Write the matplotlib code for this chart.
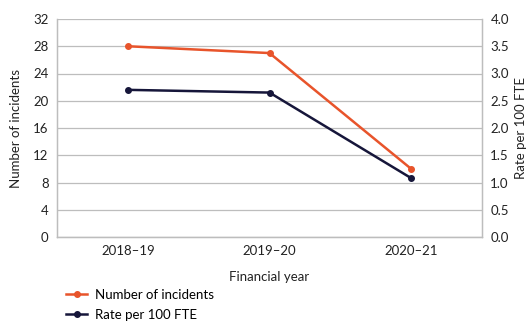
import matplotlib.pyplot as plt
from matplotlib.lines import Line2D

plt.rcParams['font.family'] = ['Lato', 'DejaVu Sans']

years = ['2018–19', '2019–20', '2020–21']
incidents = [28, 27, 10]
rate = [2.7, 2.65, 1.08]

orange = '#E8542B'
navy = '#16163A'
grid = '#BDBDBD'
text = '#222222'

fig = plt.figure(figsize=(5.3, 3.22), dpi=100)
ax = fig.add_axes([57 / 530, 1 - 237 / 322, 425 / 530, 218 / 322])
ax2 = ax.twinx()

x = range(len(years))
ax.plot(x, incidents, color=orange, lw=1.8, marker='o', ms=4)
ax2.plot(x, rate, color=navy, lw=1.8, marker='o', ms=4)

ax.set_xlim(-0.5, 2.5)
ax.set_ylim(0, 32)
ax.set_yticks(range(0, 33, 4))
ax2.set_ylim(0, 4)
ax2.set_yticks([i * 0.5 for i in range(9)])
ax2.set_yticklabels([f'{i * 0.5:.1f}' for i in range(9)])
ax.set_xticks(list(x))
ax.set_xticklabels(years)

ax.grid(axis='y', color=grid, lw=0.9)
ax.set_axisbelow(True)
for a in (ax, ax2):
    for s in a.spines.values():
        s.set_color(grid)
        s.set_linewidth(0.9)
    a.spines['top'].set_visible(False)
    a.tick_params(length=0, labelsize=9.5, colors=text, pad=6)

ax.set_xlabel('Financial year', fontsize=9.5, color=text, labelpad=10)
ax.set_ylabel('Number of incidents', fontsize=9.5, color=text, labelpad=8)
ax2.set_ylabel('Rate per 100 FTE', fontsize=9.5, color=text, labelpad=4)

handles = [Line2D([], [], color=orange, lw=1.8, marker='o', ms=4),
           Line2D([], [], color=navy, lw=1.8, marker='o', ms=4)]
fig.legend(handles, ['Number of incidents', 'Rate per 100 FTE'],
           loc='upper left', bbox_to_anchor=(66 / 530, 1 - 289 / 322),
           frameon=False, fontsize=9.5, handlelength=1.6, handletextpad=0.6,
           labelspacing=0.6, borderpad=0, borderaxespad=0)

fig.savefig('out.png', dpi=100)
